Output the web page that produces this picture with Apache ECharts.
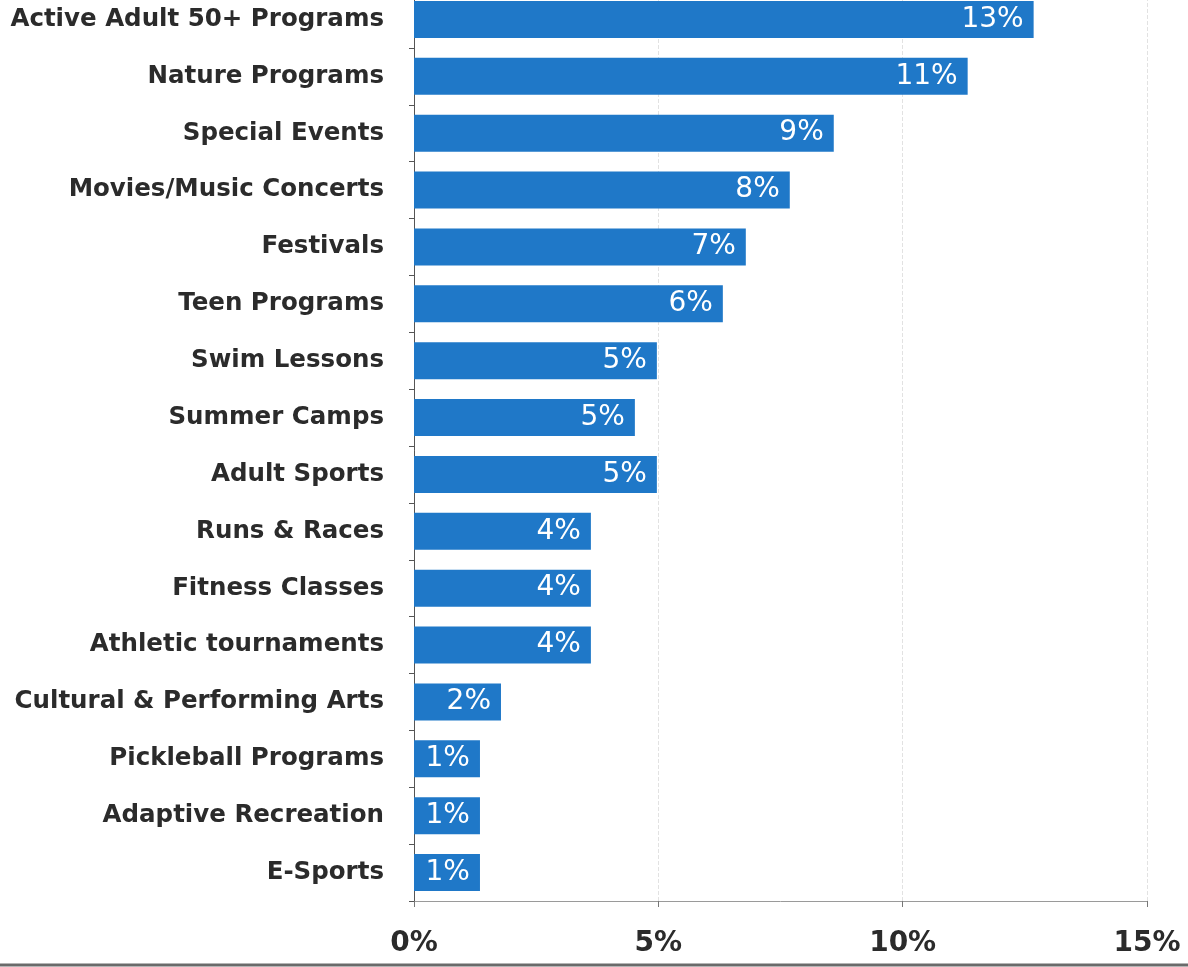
<!DOCTYPE html>
<html>
<head>
<meta charset="utf-8">
<script src="https://cdn.jsdelivr.net/npm/echarts@6/dist/echarts.min.js"></script>
<style>
    html, body { margin: 0; padding: 0; background: #fff; }
    #chart { width: 1188px; height: 967px; }
</style>
</head>
<body>
<div id="chart"></div>
<script>
// categories listed bottom → top (ECharts category axis starts at the bottom)
const programs = [
    'E-Sports', 'Adaptive Recreation', 'Pickleball Programs', 'Cultural & Performing Arts',
    'Athletic tournaments', 'Fitness Classes', 'Runs & Races', 'Adult Sports',
    'Summer Camps', 'Swim Lessons', 'Teen Programs', 'Festivals',
    'Movies/Music Concerts', 'Special Events', 'Nature Programs', 'Active Adult 50+ Programs'
];
const shares = [
    1.35, 1.35, 1.35, 1.78,
    3.62, 3.62, 3.62, 4.97,
    4.52, 4.97, 6.32, 6.79,
    7.69, 8.59, 11.33, 12.68
];
const xTicks = [0, 5, 10, 15];

const barColor = '#1f78c8';
const chart = echarts.init(document.getElementById('chart'));

chart.setOption({
    backgroundColor: '#fff',
    animation: false,
    grid: { left: 414, right: 41, top: -9, bottom: 66, outerBoundsMode: 'none' },
    xAxis: {
        type: 'value',
        min: xTicks[0],
        max: xTicks[xTicks.length - 1],
        interval: 5,
        axisLine: { show: true, lineStyle: { color: '#9a9a9a', width: 1 } },
        axisTick: { show: true, length: 6, lineStyle: { color: '#777' } },
        splitLine: { show: true, lineStyle: { color: '#e2e2e2', type: 'dashed', width: 1 } },
        axisLabel: {
            formatter: v => v + '%',
            color: '#2b2b2b',
            fontFamily: 'DejaVu Sans',
            fontWeight: 'bold',
            fontSize: 28,
            margin: 29
        }
    },
    yAxis: {
        type: 'category',
        data: programs,
        axisLine: { show: true, lineStyle: { color: '#555', width: 1 } },
        axisTick: { show: true, length: 5, lineStyle: { color: '#555' } },
        axisLabel: {
            color: '#2b2b2b',
            fontFamily: 'DejaVu Sans',
            fontWeight: 'bold',
            fontSize: 24.5,
            margin: 30
        }
    },
    series: [{
        type: 'bar',
        data: shares,
        barWidth: '65%',
        itemStyle: { color: barColor },
        label: {
            show: true,
            position: 'insideRight',
            distance: 10,
            color: '#fff',
            fontFamily: 'DejaVu Sans',
            fontSize: 28,
            formatter: p => Math.round(p.value) + '%'
        }
    }],
    graphic: [{
        type: 'line',
        shape: { x1: 0, y1: 965, x2: 1188, y2: 965 },
        style: { stroke: '#6a6a6a', lineWidth: 3 }
    }]
});
</script>
</body>
</html>
